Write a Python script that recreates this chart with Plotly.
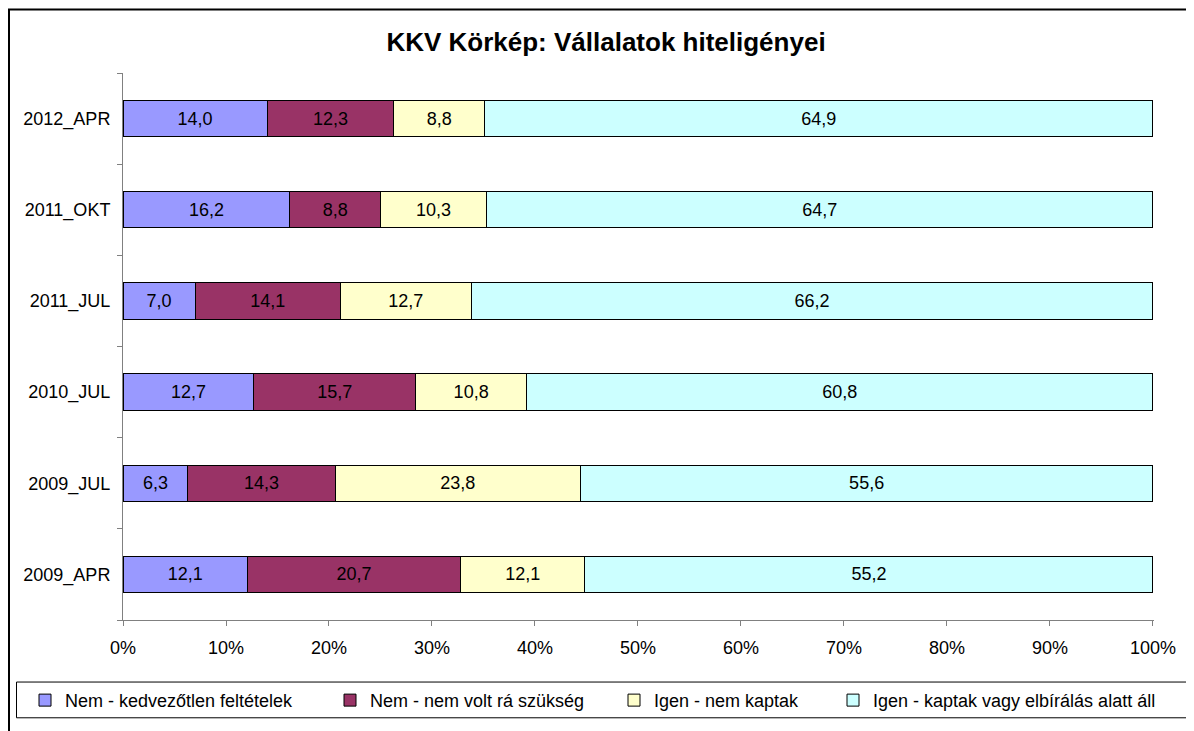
import plotly.graph_objects as go

# ---- data ----
categories = ["2009_APR", "2009_JUL", "2010_JUL", "2011_JUL", "2011_OKT", "2012_APR"]
series_names = [
    "Nem - kedvezőtlen feltételek",
    "Nem - nem volt rá szükség",
    "Igen - nem kaptak",
    "Igen - kaptak vagy elbírálás alatt áll",
]
nem_kedvezotlen = [12.1, 6.3, 12.7, 7.0, 16.2, 14.0]
nem_nem_volt = [20.7, 14.3, 15.7, 14.1, 8.8, 12.3]
igen_nem_kaptak = [12.1, 23.8, 10.8, 12.7, 10.3, 8.8]
igen_kaptak = [55.2, 55.6, 60.8, 66.2, 64.7, 64.9]
x_ticks = [0, 10, 20, 30, 40, 50, 60, 70, 80, 90, 100]

series_values = [nem_kedvezotlen, nem_nem_volt, igen_nem_kaptak, igen_kaptak]
colors = ["#9999FF", "#993366", "#FFFFCC", "#CCFFFF"]

# page has an 8px body margin, so the figure is sized/offset accordingly
OFF = 8
W, H = 1194 - OFF, 731 - OFF
L, T = 123 - OFF, 73 - OFF
PW, PH = 1031, 551
R, B = W - L - PW, H - T - PH


def px_x(p):  # p: x in screenshot pixels
    return (p - OFF - L) / PW


def px_y(p):  # p: y in screenshot pixels
    return (T + PH - (p - OFF)) / PH


FONT = "Arial, Liberation Sans, sans-serif"

legend_names = ["legend", "legend2", "legend3", "legend4"]
legend_text_x = [62, 367, 651, 870]  # where each legend label starts

fig = go.Figure()
for name, vals, col, lg in zip(series_names, series_values, colors, legend_names):
    fig.add_trace(
        go.Bar(
            y=categories,
            x=vals,
            name=name,
            orientation="h",
            legend=lg,
            marker=dict(color=col, line=dict(color="black", width=1)),
            text=[f"{v:.1f}".replace(".", ",") for v in vals],
            textposition="inside",
            insidetextanchor="middle",
            textangle=0,
            constraintext="none",
            textfont=dict(family=FONT, size=18, color="black"),
            hoverinfo="skip",
        )
    )

legend_layout = {}
for lg, tx in zip(legend_names, legend_text_x):
    legend_layout[lg] = dict(
        orientation="h",
        x=px_x(tx + 3 - 40),
        xanchor="left",
        y=px_y(705),
        yanchor="middle",
        font=dict(family=FONT, size=18, color="black"),
        bgcolor="rgba(0,0,0,0)",
        borderwidth=0,
        itemwidth=30,
    )

fig.update_layout(
    width=W,
    height=H,
    margin=dict(l=L, r=R, t=T, b=B, pad=0),
    barmode="stack",
    barnorm="percent",
    bargap=0.6,
    plot_bgcolor="white",
    paper_bgcolor="white",
    font=dict(family=FONT, size=18, color="black"),
    title=dict(
        text="<b>KKV Körkép: Vállalatok hiteligényei</b>",
        x=(606 - OFF) / W,
        xanchor="center",
        xref="container",
        y=1 - (42 - OFF) / H,
        yref="container",
        yanchor="middle",
        font=dict(family=FONT, size=26, color="black"),
    ),
    showlegend=True,
    **legend_layout,
    xaxis=dict(
        range=[0, 100.1],
        tickvals=x_ticks,
        ticktext=[f"{t}%" for t in x_ticks],
        showgrid=False,
        zeroline=False,
        showline=True,
        linecolor="#808080",
        linewidth=1,
        ticks="outside",
        ticklen=5,
        tickcolor="#808080",
        ticklabelstandoff=6,
        tickfont=dict(family=FONT, size=18, color="black"),
        fixedrange=True,
    ),
    yaxis=dict(
        type="category",
        categoryorder="array",
        categoryarray=categories,
        tickson="boundaries",
        showgrid=False,
        zeroline=False,
        showline=True,
        linecolor="#808080",
        linewidth=1,
        ticks="outside",
        ticklen=5,
        tickcolor="#808080",
        ticklabelstandoff=8,
        tickfont=dict(family=FONT, size=18, color="black"),
        fixedrange=True,
    ),
    shapes=[
        # outer chart border (continues past the visible right/bottom edges)
        dict(
            type="rect", xref="paper", yref="paper",
            x0=px_x(9), x1=px_x(1230), y0=px_y(760), y1=px_y(9),
            line=dict(color="black", width=2), fillcolor="rgba(0,0,0,0)",
            layer="below",
        ),
        # legend box
        dict(
            type="rect", xref="paper", yref="paper",
            x0=px_x(16.5), x1=px_x(1188), y0=px_y(722.5), y1=px_y(686.5),
            line=dict(color="black", width=1), fillcolor="rgba(0,0,0,0)",
            layer="below",
        ),
    ],
)

fig.write_html("out.html")
